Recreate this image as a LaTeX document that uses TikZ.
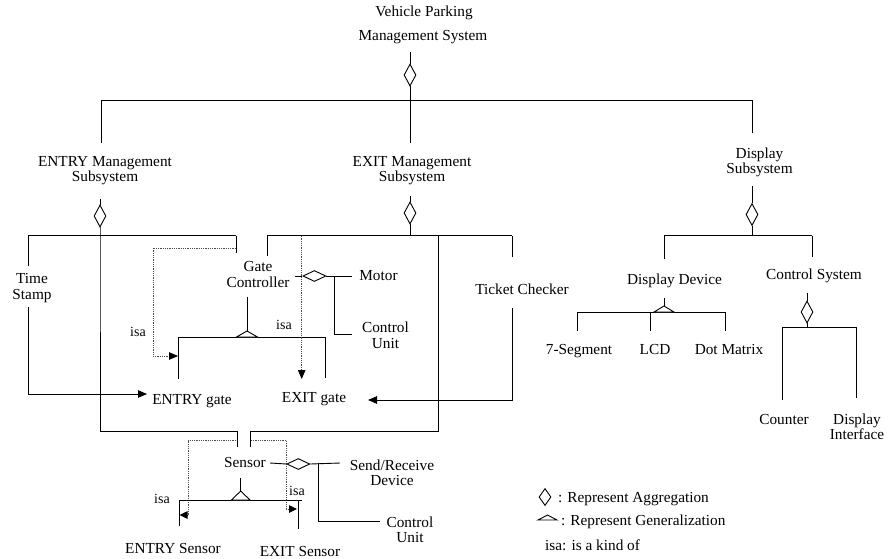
\documentclass[tikz,border=0pt]{standalone}
\usepackage{fontspec}
\setmainfont{Liberation Serif}
\usetikzlibrary{shapes.geometric,arrows.meta,calc}
\begin{document}
\begin{tikzpicture}[x=1pt,y=-1pt,
  ln/.style={line width=0.9pt, black},
  dotln/.style={line width=0.8pt, densely dotted, black!70},
  arr/.style={-{Triangle[length=9pt,width=7.5pt,color=black,fill=black]}},
  sarr/.style={-{Triangle[length=8pt,width=7.5pt,color=black,fill=black]}},
  lbl/.style={font=\fontsize{15.3}{15.5}\selectfont, inner sep=0pt, align=center},
  isalbl/.style={font=\fontsize{14}{14}\selectfont, inner sep=0pt},
  aggv/.style={diamond, draw, line width=0.9pt, minimum width=12pt, minimum height=22pt, inner sep=0pt, fill=white},
  aggh/.style={diamond, draw, line width=0.9pt, minimum width=23pt, minimum height=11pt, inner sep=0pt, fill=white},
  gentri/.style={line width=0.9pt, fill=white}
]
\useasboundingbox (0,0) rectangle (896,558);

% ---------- top level ----------
\node[lbl,anchor=base] (vp1) at (424,16) {Vehicle Parking};
\node[lbl,anchor=base] (vp2) at (423,40) {Management System};
\coordinate (t0) at (410,52);
\node[aggv] (d0) at (410,75) {};
\coordinate (t1) at (410,100);
\draw[ln] (t0) -- (d0.north);
\draw[ln] (d0.south) -- (t1);
\coordinate (b0l) at (101,100);
\coordinate (b0r) at (752,100);
\draw[ln] (b0l) -- (b0r);
\coordinate (e0) at (101,143);
\coordinate (x0) at (410,143);
\coordinate (s0) at (752,133);
\draw[ln] (b0l) -- (e0);
\draw[ln] (t1) -- (x0);
\draw[ln] (b0r) -- (s0);

\node[lbl,anchor=north] (entrym) at (105,155.8) {ENTRY Management\\Subsystem};
\node[lbl,anchor=north] (exitm) at (412,155.8) {EXIT Management\\Subsystem};
\node[lbl,anchor=north] (disps) at (759.5,147.5) {Display\\Subsystem};

% ---------- ENTRY subsystem ----------
\coordinate (e1) at (100,199);
\node[aggv] (d1) at (100,216) {};
\draw[ln] (e1) -- (d1.north);
\coordinate (e2) at (100,235.7);
\coordinate (e3) at (100,431);
\draw[ln] (d1.south) -- (e2) -- (e3);
\coordinate (ebl) at (28,235.7);
\coordinate (ebr) at (236,235.7);
\draw[ln] (ebl) -- (ebr);
\coordinate (ts0) at (28,266);
\coordinate (gc0) at (236,253);
\draw[ln] (ebl) -- (ts0);
\draw[ln] (ebr) -- (gc0);

\node[lbl,anchor=north] (ts) at (32,273.5) {Time\\Stamp};
\node[lbl,anchor=north] (gc) at (258,261.3) {Gate\\Controller};

% Time stamp -> ENTRY gate
\coordinate (tsA) at (28,307);
\coordinate (egA) at (147,394);
\draw[ln,arr] (tsA) |- (egA);
\node[lbl,anchor=base] (eg) at (192,404) {ENTRY gate};
\node[lbl,anchor=base] (xg) at (314,402) {EXIT gate};

% isa dotted to ENTRY gate
\coordinate (gi0) at (236,248);
\coordinate (gi1) at (153,356);
\coordinate (gi2) at (178,356);
\draw[dotln] (gi0) -| (gi1);
\draw[dotln,arr] (gi1) -- (gi2);
\node[isalbl,anchor=base] (isa1) at (138,336.5) {isa};

% generalization of gate controller
\coordinate (gg0) at (247,297);
\coordinate (gga) at (247,331);
\draw[ln] (gg0) -- (gga);
\coordinate (ggl) at (178,337);
\coordinate (ggr) at (325,337);
\draw[ln] (ggl) -- (ggr);
\draw[gentri] (gga) -- ++(10.5,6) -- ++(-21,0) -- cycle;
\coordinate (ggl2) at (178,379);
\coordinate (ggr2) at (325,378);
\draw[ln] (ggl) -- (ggl2);
\draw[ln] (ggr) -- (ggr2);
\node[isalbl,anchor=base] (isa2) at (284,329) {isa};

% Motor / control unit aggregation
\coordinate (mA) at (295,276);
\node[aggh] (dm) at (314.4,276) {};
\coordinate (mB) at (351.7,276);
\coordinate (mC) at (334,276);
\coordinate (mD) at (351.7,334);
\draw[ln] (mA) -- (dm.west);
\draw[ln] (dm.east) -- (mB);
\draw[ln] (mC) |- (mD);
\node[lbl,anchor=base] (motor) at (378.5,280.5) {Motor};
\node[lbl,anchor=north] (cu1) at (385.5,322) {Control\\Unit};

% ---------- EXIT subsystem ----------
\coordinate (x1) at (410,196);
\node[aggv] (d2) at (410,213) {};
\draw[ln] (x1) -- (d2.north);
\coordinate (x2) at (410,235.7);
\draw[ln] (d2.south) -- (x2);
\coordinate (xbl) at (267,235.7);
\coordinate (xbr) at (512,235.7);
\draw[ln] (xbl) -- (xbr);
\coordinate (xgc) at (267,256);
\coordinate (xtc) at (512,257);
\draw[ln] (xbl) -- (xgc);
\draw[ln] (xbr) -- (xtc);
\node[lbl,anchor=base] (tc) at (522,294.5) {Ticket Checker};
\coordinate (tcA) at (512,308);
\coordinate (xgA) at (368,400);
\draw[ln,arr] (tcA) |- (xgA);

% isa dotted to EXIT gate
\coordinate (xi0) at (301.7,235.7);
\coordinate (xi1) at (301.7,379);
\draw[dotln,arr] (xi0) -- (xi1);

% ---------- Sensor ----------
\coordinate (xs0) at (438,235.7);
\coordinate (xs1) at (250,431);
\coordinate (xs2) at (250,447);
\draw[ln] (xs0) |- (xs1) -- (xs2);
\coordinate (es1) at (237,447);
\draw[ln] (e3) -| (es1);

\node[lbl,anchor=base] (sensor) at (245,467.5) {Sensor};

% sensor isa dotted
\coordinate (si0) at (236,440);
\coordinate (si1) at (188,515);
\coordinate (si2) at (179.5,515);
\draw[dotln] (si0) -| (si1);
\draw[dotln,sarr] (si1) -- (si2);
\coordinate (sj0) at (251,440);
\coordinate (sj1) at (286,509);
\coordinate (sj2) at (297,509);
\draw[dotln] (sj0) -| (sj1);
\draw[dotln,sarr] (sj1) -- (sj2);
\node[isalbl,anchor=base] (isa3) at (162,503) {isa};
\node[isalbl,anchor=base] (isa4) at (297,495) {isa};

% sensor generalization
\coordinate (sg0) at (240.7,478);
\coordinate (sga) at (240.7,491);
\draw[ln] (sg0) -- (sga);
\coordinate (sgl) at (179,500);
\coordinate (sgr) at (301.7,500);
\draw[ln] (sgl) -- (sgr);
\draw[gentri] (sga) -- ++(9.3,9) -- ++(-18.6,0) -- cycle;
\coordinate (sgl2) at (179,526);
\coordinate (sgr1) at (298,500);
\coordinate (sgr2) at (298,529);
\draw[ln] (sgl) -- (sgl2);
\draw[ln] (sgr1) -- (sgr2);
\node[lbl,anchor=base] (ens) at (173,553) {ENTRY Sensor};
\node[lbl,anchor=base] (exs) at (300,556) {EXIT Sensor};

% sensor aggregation
\coordinate (sA) at (270,463);
\node[aggh] (ds) at (298.3,464) {};
\coordinate (sB) at (340,463);
\coordinate (sC) at (318,463);
\coordinate (sD) at (380,521.7);
\draw[ln] (sA) -- (ds.west);
\draw[ln] (ds.east) -- (sB);
\draw[ln] (sC) |- (sD);
\node[lbl,anchor=north] (srd) at (392,459.5) {Send/Receive\\Device};
\node[lbl,anchor=north] (cu2) at (410,516.3) {Control\\Unit};

% ---------- Display subsystem ----------
\coordinate (p1) at (752,186);
\node[aggv] (d3) at (752,214.5) {};
\draw[ln] (p1) -- (d3.north);
\coordinate (p2) at (752,235.7);
\draw[ln] (d3.south) -- (p2);
\coordinate (pbl) at (664,235.7);
\coordinate (pbr) at (812,235.7);
\draw[ln] (pbl) -- (pbr);
\coordinate (pdd) at (664,259);
\coordinate (pcs) at (812,257);
\draw[ln] (pbl) -- (pdd);
\draw[ln] (pbr) -- (pcs);
\node[lbl,anchor=base] (dd) at (674.5,284) {Display Device};
\node[lbl,anchor=base] (cs) at (814,279.3) {Control System};

% display device generalization
\coordinate (dg0) at (664,298);
\coordinate (dga) at (664,306);
\draw[ln] (dg0) -- (dga);
\coordinate (dgl) at (577,312);
\coordinate (dgm) at (650,312);
\coordinate (dgr) at (725,312);
\draw[ln] (dgl) -- (dgr);
\draw[gentri] (dga) -- ++(10,6) -- ++(-20,0) -- cycle;
\coordinate (dgl2) at (577,331);
\coordinate (dgm2) at (650,331);
\coordinate (dgr2) at (725,331);
\draw[ln] (dgl) -- (dgl2);
\draw[ln] (dgm) -- (dgm2);
\draw[ln] (dgr) -- (dgr2);
\node[lbl,anchor=base] (seg) at (579,354) {7-Segment};
\node[lbl,anchor=base] (lcd) at (655,354) {LCD};
\node[lbl,anchor=base] (dm2) at (729,354) {Dot Matrix};

% control system aggregation
\coordinate (c1) at (807,293);
\node[aggv] (d4) at (807,312) {};
\draw[ln] (c1) -- (d4.north);
\coordinate (c2) at (807,327);
\draw[ln] (d4.south) -- (c2);
\coordinate (cbl) at (782,327);
\coordinate (cbr) at (856,327);
\draw[ln] (cbl) -- (cbr);
\coordinate (cbl2) at (782,400);
\coordinate (cbr2) at (856,398);
\draw[ln] (cbl) -- (cbl2);
\draw[ln] (cbr) -- (cbr2);
\node[lbl,anchor=base] (counter) at (784,424) {Counter};
\node[lbl,anchor=north] (dint) at (857,413.5) {Display\\Interface};

% ---------- legend ----------
\node[diamond, draw, line width=0.9pt, minimum width=12pt, minimum height=17pt, inner sep=0pt] (lg1) at (545,497) {};
\node[lbl,anchor=base west] (lg1t) at (554,502) {\ : Represent Aggregation};
\coordinate (lg2a) at (547.5,515);
\draw[gentri] (lg2a) -- ++(9.5,5) -- ++(-19,0) -- cycle;
\node[lbl,anchor=base west] (lg2t) at (557,525) {\ : Represent Generalization};
\node[lbl,anchor=base west] (lg3t) at (545,550) {isa: is a kind of};
\end{tikzpicture}
\end{document}
